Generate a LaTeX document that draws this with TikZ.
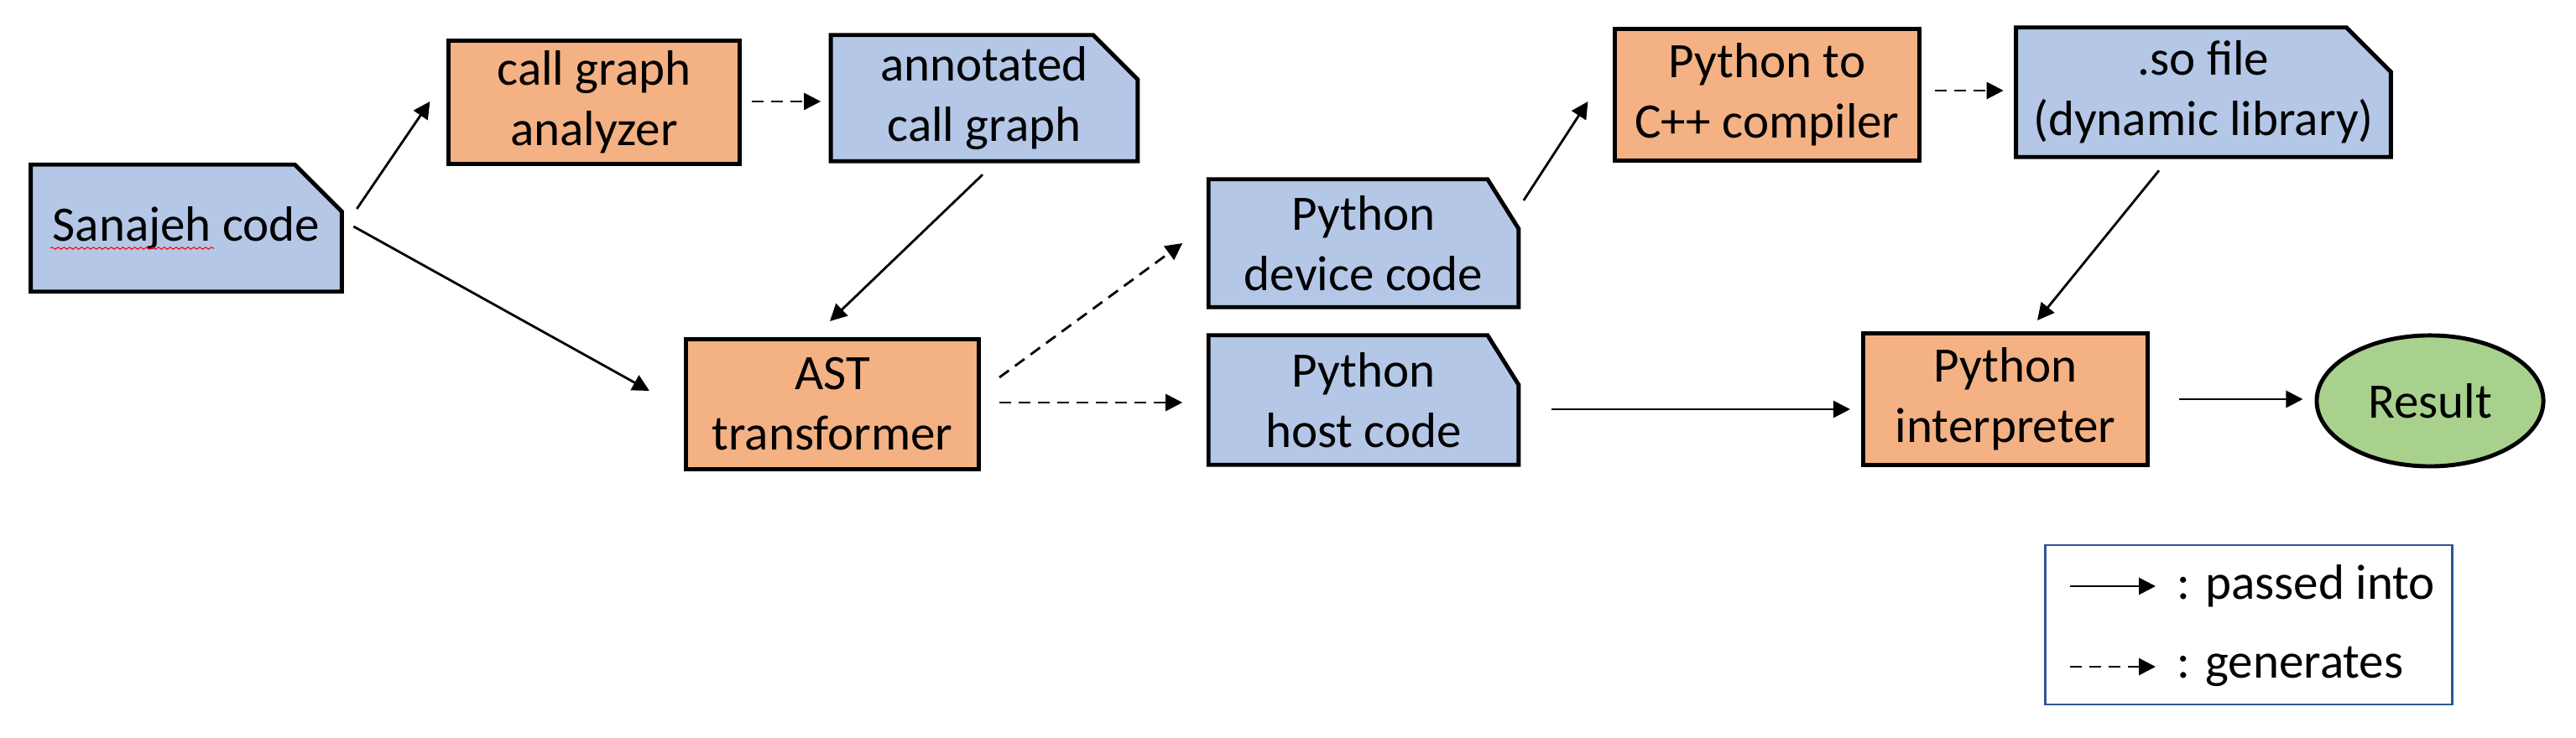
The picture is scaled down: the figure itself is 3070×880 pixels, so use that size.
\documentclass[tikz,border=0pt]{standalone}
\usepackage{fontspec}
\setmainfont{Carlito}
\usetikzlibrary{arrows.meta,calc,backgrounds,decorations.pathmorphing,shapes.geometric}
\definecolor{docblue}{HTML}{B4C7E7}
\definecolor{procorange}{HTML}{F4B183}
\definecolor{resgreen}{HTML}{A9D18E}
\definecolor{legblue}{HTML}{2F5597}
\tikzset{
  lbl/.style={font=\fontsize{16.8}{20.5}\selectfont, align=center, inner sep=0pt},
  proc/.style={lbl, draw=black, line width=1.4pt, fill=procorange},
  docnode/.style={lbl},
  docshape/.style={draw=black, fill=docblue, line width=1.4pt},
  res/.style={lbl, ellipse, draw=black, line width=1.4pt, fill=resgreen},
  pass/.style={line width=0.8pt, -{Triangle[length=0.2cm,width=0.2cm]}},
  gen/.style={pass, dash pattern=on 0.14cm off 0.09cm},
}
\newcommand{\docoutline}[3]{%
  \filldraw[docshape] (#1.south west) -- (#1.north west) -- ($(#1.north east)+(-#2,0)$) -- ($(#1.north east)+(0,#3)$) -- (#1.south east) -- cycle;}
\begin{document}
\begin{tikzpicture}[x=0.01cm,y=-0.01cm]
\useasboundingbox (0,0) rectangle (3070,880);
% document nodes
\node[docnode, minimum width=3.69cm, minimum height=1.50cm] (s) at (222,272) {Sanajeh code};
\node[docnode, minimum width=3.64cm, minimum height=1.49cm] (n) at (1173,117) {annotated\\call graph};
\node[docnode, minimum width=3.68cm, minimum height=1.51cm] (d) at (1625,290) {Python\\device code};
\node[docnode, minimum width=3.68cm, minimum height=1.53cm] (h) at (1625,477) {Python\\host code};
\node[docnode, minimum width=4.45cm, minimum height=1.53cm] (o) at (2626,110) {.so file\\(dynamic library)};
\begin{scope}[on background layer]
\docoutline{s}{56}{56}
\docoutline{n}{53}{53}
\docoutline{d}{37}{59}
\docoutline{h}{37}{59}
\docoutline{o}{53}{53}
\end{scope}
% process nodes
\node[proc, minimum width=3.46cm, minimum height=1.47cm] (a) at (708,122) {call graph\\analyzer};
\node[proc, minimum width=3.49cm, minimum height=1.55cm] (t) at (992,482) {AST\\transformer};
\node[proc, minimum width=3.62cm, minimum height=1.57cm] (c) at (2106,113) {Python to\\C++ compiler};
\node[proc, minimum width=3.39cm, minimum height=1.57cm] (i) at (2390,476) {Python\\interpreter};
\node[res, minimum width=2.70cm, minimum height=1.56cm] (r) at (2896,478) {Result};
% spell-check squiggle
\draw[red, line width=0.3pt, decorate, decoration={snake, amplitude=0.35pt, segment length=2pt}] (60,296) -- (255,296);
% connectors
\draw[pass] ($(s.east)+(18,-23)$) -- ($(a.west)+(-20,-1)$);
\draw[pass] ($(s.east)+(14,-2)$) -- ($(t.west)+(-41,-16)$);
\draw[gen] ($(a.east)+(12,-1)$) -- ($(n.west)+(-12,4)$);
\draw[pass] ($(n.south)+(-2,16)$) -- ($(t.north)+(-3,-19)$);
\draw[gen] ($(t.east)+(22,-32)$) -- ($(d.west)+(-31,0)$);
\draw[gen] ($(t.east)+(22,-2)$) -- ($(h.west)+(-31,3)$);
\draw[pass] ($(d.east)+(6,-51)$) -- ($(c.west)+(-30,8)$);
\draw[gen] ($(c.east)+(16,-5)$) -- ($(o.west)+(-15,-2)$);
\draw[pass] ($(o.south)+(-53,16)$) -- ($(i.north)+(38,-13)$);
\draw[pass] ($(h.east)+(39,11)$) -- ($(i.west)+(-13,12)$);
\draw[pass] ($(i.east)+(35,0)$) -- ($(r.west)+(-14,-2)$);
% legend
\node[draw=legblue, line width=0.8pt, minimum width=4.85cm, minimum height=1.90cm] (L) at (2680,745) {};
\node[lbl, anchor=west] (lt1) at (2594,699) {: passed into};
\node[lbl, anchor=west] (lt2) at (2594,795) {: generates};
\coordinate (la1) at (2467,699);
\coordinate (la2) at (2467,795);
\draw[pass] (la1) -- ($(lt1.west)+(-25,0)$);
\draw[gen] (la2) -- ($(lt2.west)+(-25,0)$);
\end{tikzpicture}
\end{document}
